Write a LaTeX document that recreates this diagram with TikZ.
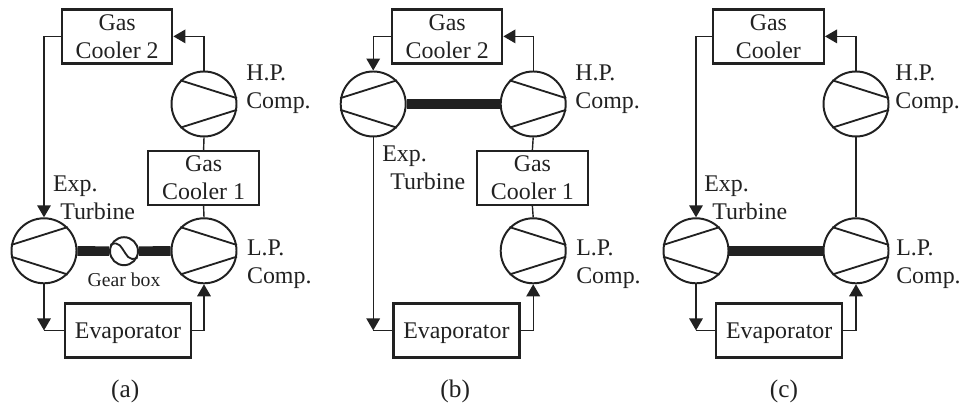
\documentclass[tikz,border=0pt]{standalone}
\usepackage{fontspec}
\setmainfont{Liberation Serif}
\usepackage{tikz}
\usetikzlibrary{arrows.meta}
\definecolor{ink}{gray}{0.13}
\tikzset{
  unit/.style={draw=ink, line width=1.7pt, text=ink, align=center, inner sep=0pt, minimum height=1.35cm, font=\fontsize{17}{20}\selectfont, execute at begin node={\rule{0pt}{15pt}}},
  machine/.style={draw=ink, line width=1.4pt, circle, inner sep=0pt, minimum size=1.625cm},
  blade/.style={draw=ink, line width=1.3pt},
  pipe/.style={draw=ink, line width=1pt},
  flow/.style={pipe, -{Triangle[length=0.3cm,width=0.34cm]}},
  shaft/.style={draw=ink, line width=0.24cm},
  tag/.style={text=ink, align=left, anchor=west, inner sep=0pt, font=\fontsize{17}{20}\selectfont},
  caption/.style={text=ink, inner sep=0pt, font=\fontsize{18}{20}\selectfont}
}
\begin{document}
\begin{tikzpicture}
\useasboundingbox (0,0) rectangle (24.025,10.2);
% panel a
\node [unit, minimum width=2.75cm] (coola) at (2.93,9.29) {Gas\\Cooler 2};
\node [unit, minimum width=2.77cm] (coolb) at (5.09,5.75) {Gas\\Cooler 1};
\node [unit, minimum width=3.15cm] (evapa) at (3.2,1.94) {Evaporator};
\node [machine] (hpa) at (5.1,7.6) {}; \draw [blade] (hpa.135) -- (hpa.10); \draw [blade] (hpa.225) -- (hpa.-10);
\node [machine] (lpa) at (5.1,3.93) {}; \draw [blade] (lpa.135) -- (lpa.10); \draw [blade] (lpa.225) -- (lpa.-10);
\node [machine] (turba) at (1.1,3.93) {}; \draw [blade] (turba.45) -- (turba.170); \draw [blade] (turba.-45) -- (turba.190);
\node [machine, minimum size=0.7cm] (gear) at (3.1,3.92) {};
\draw [blade] (gear.155) .. controls (2.98,4.2) and (3.05,3.98) .. (gear.center) .. controls (3.15,3.86) and (3.22,3.64) .. (gear.-25);
\draw [shaft] (turba) -- (gear); \draw [shaft] (gear) -- (lpa);
\draw [flow] (coola.west) -| (turba.north);
\coordinate (benda) at (turba.south |- evapa.west);
\draw [flow] (turba.south) -- (benda); \draw [pipe] (benda) -- (evapa.west);
\draw [flow] (evapa.east) -| (lpa.south);
\draw [pipe] (lpa.north) -- (coolb.south); \draw [pipe] (coolb.north) -- (hpa.south);
\draw [flow] (hpa.north) |- (coola.east);
\node [tag] (hpna) at (6.15,7.96) {H.P.\\Comp.};
\node [tag] (lpna) at (6.17,3.6) {L.P.\\Comp.};
\node [tag] (tuna) at (1.32,5.25) {Exp.\\\hspace*{0.18cm}Turbine};
\node [text=ink, inner sep=0pt, font=\fontsize{14}{16}\selectfont] (gearn) at (3.1,3.2) {Gear box};
\node [caption] (capa) at (3.13,0.42) {(a)};
% panel b
\node [unit, minimum width=2.75cm] (coolc) at (11.18,9.29) {Gas\\Cooler 2};
\node [unit, minimum width=2.77cm] (coold) at (13.31,5.75) {Gas\\Cooler 1};
\node [unit, minimum width=3.15cm] (evapb) at (11.41,1.94) {Evaporator};
\node [machine] (hpb) at (13.33,7.6) {}; \draw [blade] (hpb.135) -- (hpb.10); \draw [blade] (hpb.225) -- (hpb.-10);
\node [machine] (lpb) at (13.33,3.93) {}; \draw [blade] (lpb.135) -- (lpb.10); \draw [blade] (lpb.225) -- (lpb.-10);
\node [machine] (turbb) at (9.33,7.6) {}; \draw [blade] (turbb.45) -- (turbb.170); \draw [blade] (turbb.-45) -- (turbb.190);
\draw [shaft] (turbb) -- (hpb);
\draw [flow] (coolc.west) -| (turbb.north);
\coordinate (bendb) at (turbb.south |- evapb.west);
\draw [flow] (turbb.south) -- (bendb); \draw [pipe] (bendb) -- (evapb.west);
\draw [flow] (evapb.east) -| (lpb.south);
\draw [pipe] (lpb.north) -- (coold.south); \draw [pipe] (coold.north) -- (hpb.south);
\draw [flow] (hpb.north) |- (coolc.east);
\node [tag] (hpnb) at (14.38,7.96) {H.P.\\Comp.};
\node [tag] (lpnb) at (14.4,3.6) {L.P.\\Comp.};
\node [tag] (tunb) at (9.55,6.01) {Exp.\\\hspace*{0.2cm}Turbine};
\node [caption] (capb) at (11.38,0.42) {(b)};
% panel c
\node [unit, minimum width=2.77cm] (coole) at (19.21,9.29) {Gas\\Cooler};
\node [unit, minimum width=3.15cm] (evapc) at (19.48,1.94) {Evaporator};
\node [machine] (hpc) at (21.4,7.6) {}; \draw [blade] (hpc.135) -- (hpc.10); \draw [blade] (hpc.225) -- (hpc.-10);
\node [machine] (lpc) at (21.4,3.93) {}; \draw [blade] (lpc.135) -- (lpc.10); \draw [blade] (lpc.225) -- (lpc.-10);
\node [machine] (turbc) at (17.4,3.93) {}; \draw [blade] (turbc.45) -- (turbc.170); \draw [blade] (turbc.-45) -- (turbc.190);
\draw [shaft] (turbc) -- (lpc);
\draw [flow] (coole.west) -| (turbc.north);
\coordinate (bendc) at (turbc.south |- evapc.west);
\draw [flow] (turbc.south) -- (bendc); \draw [pipe] (bendc) -- (evapc.west);
\draw [flow] (evapc.east) -| (lpc.south);
\draw [pipe] (lpc.north) -- (hpc.south);
\draw [flow] (hpc.north) |- (coole.east);
\node [tag] (hpnc) at (22.38,7.96) {H.P.\\Comp.};
\node [tag] (lpnc) at (22.4,3.6) {L.P.\\Comp.};
\node [tag] (tunc) at (17.6,5.25) {Exp.\\\hspace*{0.2cm}Turbine};
\node [caption] (capc) at (19.6,0.42) {(c)};
\end{tikzpicture}
\end{document}
